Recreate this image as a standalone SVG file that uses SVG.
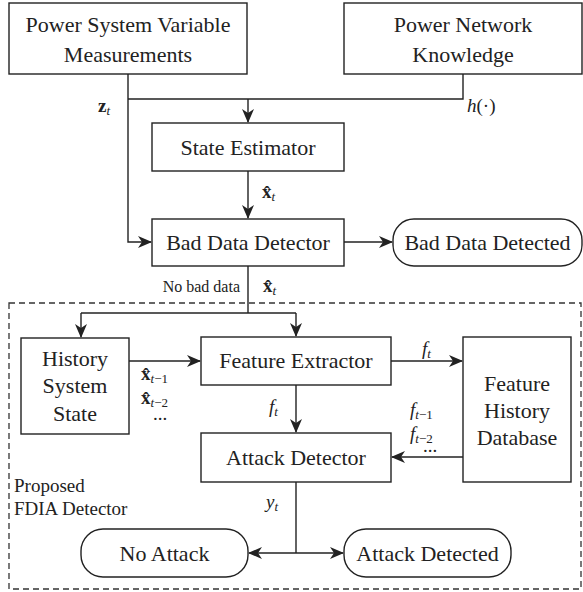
<svg xmlns="http://www.w3.org/2000/svg" width="583" height="592" viewBox="0 0 583 592">
<style>
text{font-family:"Liberation Serif","Times New Roman","DejaVu Serif",serif;fill:#222}
.box{fill:#fff;stroke:#222;stroke-width:1.4}
.lbl{font-size:22px;text-anchor:middle}
.sm{font-size:16px}
.note{font-size:19px}
.m{font-size:19px}
.b{font-weight:bold}
.i{font-style:italic}
.con{fill:none;stroke:#222;stroke-width:1.4}
</style>
<defs>
<marker id="ah" markerUnits="userSpaceOnUse" markerWidth="14" markerHeight="12" viewBox="0 0 14 12" refX="13" refY="6" orient="auto">
<path d="M0,0 L14,6 L0,12 L4,6 z" fill="#222"/>
</marker>
</defs>
<rect id="fdia-region" x="9" y="303" width="572" height="286" fill="none" stroke="#333" stroke-width="1.3" stroke-dasharray="6,4"/>
<g id="connectors">
<path class="con" d="M128,74 V242 H151" marker-end="url(#ah)"/>
<path class="con" d="M128,99 H463 V74"/>
<path class="con" d="M248,99 V122" marker-end="url(#ah)"/>
<path class="con" d="M248,171 V218" marker-end="url(#ah)"/>
<path class="con" d="M344,242 H392" marker-end="url(#ah)"/>
<path class="con" d="M248,266 V313"/>
<path class="con" d="M81,313 H296"/>
<path class="con" d="M81,313 V337" marker-end="url(#ah)"/>
<path class="con" d="M296,313 V336" marker-end="url(#ah)"/>
<path class="con" d="M129,361 H200" marker-end="url(#ah)"/>
<path class="con" d="M391,361 H462" marker-end="url(#ah)"/>
<path class="con" d="M296,385 V432" marker-end="url(#ah)"/>
<path class="con" d="M463,457 H392" marker-end="url(#ah)"/>
<path class="con" d="M296,482 V553"/>
<path class="con" d="M296,553 H249" marker-end="url(#ah)"/>
<path class="con" d="M296,553 H343" marker-end="url(#ah)"/>
</g>
<g id="psvm"><rect class="box" x="9" y="3" width="238" height="71"/><text class="lbl" x="128" y="32">Power System Variable</text><text class="lbl" x="128" y="62">Measurements</text></g>
<g id="pnk"><rect class="box" x="344" y="3" width="238" height="71"/><text class="lbl" x="463" y="32">Power Network</text><text class="lbl" x="463" y="62">Knowledge</text></g>
<g id="se"><rect class="box" x="152" y="123" width="192" height="48"/><text class="lbl" x="248" y="155">State Estimator</text></g>
<g id="bdd"><rect class="box" x="152" y="219" width="192" height="47"/><text class="lbl" x="248" y="250">Bad Data Detector</text></g>
<g id="bddet"><rect class="box" x="393" y="219" width="189" height="47" rx="21"/><text class="lbl" x="487.5" y="250">Bad Data Detected</text></g>
<g id="hss"><rect class="box" x="21" y="338" width="108" height="96"/><text class="lbl" x="75" y="366">History</text><text class="lbl" x="75" y="393">System</text><text class="lbl" x="75" y="421">State</text></g>
<g id="fe"><rect class="box" x="201" y="337" width="190" height="48"/><text class="lbl" x="296" y="368">Feature Extractor</text></g>
<g id="fhd"><rect class="box" x="463" y="337" width="108" height="145"/><text class="lbl" x="517" y="391">Feature</text><text class="lbl" x="517" y="418">History</text><text class="lbl" x="517" y="445">Database</text></g>
<g id="ad"><rect class="box" x="201" y="433" width="190" height="49"/><text class="lbl" x="296" y="465">Attack Detector</text></g>
<g id="noattack"><rect class="box" x="81" y="529" width="167" height="48" rx="22"/><text class="lbl" x="164.5" y="561">No Attack</text></g>
<g id="attackdet"><rect class="box" x="344" y="529" width="167" height="48" rx="22"/><text class="lbl" x="427.5" y="561">Attack Detected</text></g>
<g id="labels">
<text class="m" x="98" y="112"><tspan class="b">z</tspan><tspan class="i" font-size="13" dy="3">t</tspan></text>
<text class="m" x="467" y="112" font-size="13"><tspan class="i">h</tspan>(·)</text>
<text class="m" x="262" y="198"><tspan class="b">x&#x302;</tspan><tspan class="i" font-size="13" dy="3">t</tspan></text>
<text class="sm" x="240" y="292" text-anchor="end">No bad data</text>
<text class="m" x="263" y="292"><tspan class="b">x&#x302;</tspan><tspan class="i" font-size="13" dy="3">t</tspan></text>
<text class="m" x="422" y="355"><tspan class="i">f</tspan><tspan class="i" font-size="13" dy="3">t</tspan></text>
<text class="m" x="141" y="380"><tspan class="b">x&#x302;</tspan><tspan class="i" font-size="13" dy="3">t</tspan><tspan font-size="13">−1</tspan></text>
<text class="m" x="141" y="404"><tspan class="b">x&#x302;</tspan><tspan class="i" font-size="13" dy="3">t</tspan><tspan font-size="13">−2</tspan></text>
<text class="m" x="153" y="420" font-size="14">...</text>
<text class="m" x="269" y="413"><tspan class="i">f</tspan><tspan class="i" font-size="13" dy="3">t</tspan></text>
<text class="m" x="410" y="416"><tspan class="i">f</tspan><tspan class="i" font-size="13" dy="3">t</tspan><tspan font-size="13">−1</tspan></text>
<text class="m" x="410" y="440"><tspan class="i">f</tspan><tspan class="i" font-size="13" dy="3">t</tspan><tspan font-size="13">−2</tspan></text>
<text class="m" x="423" y="452" font-size="14">...</text>
<text class="m" x="266" y="508"><tspan class="i">y</tspan><tspan class="i" font-size="13" dy="3">t</tspan></text>
<text class="note" x="14" y="492">Proposed</text>
<text class="note" x="14" y="515">FDIA Detector</text>
</g>
</svg>
